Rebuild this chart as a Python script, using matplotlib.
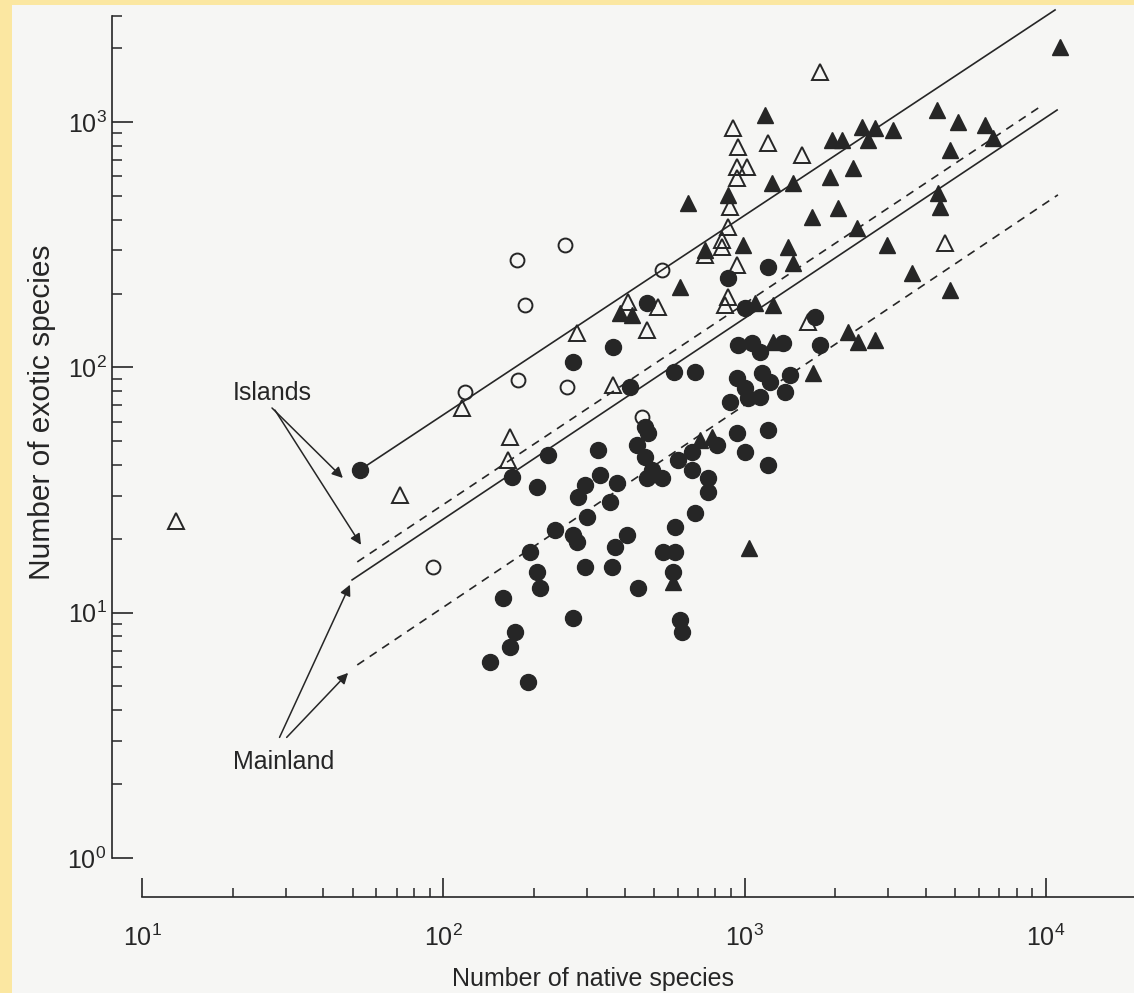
import matplotlib.pyplot as plt
from matplotlib.patches import Rectangle
from matplotlib.ticker import NullFormatter

plt.rcParams['font.family'] = ['Liberation Sans', 'DejaVu Sans']
plt.rcParams['mathtext.fontset'] = 'custom'
plt.rcParams['mathtext.rm'] = 'Liberation Sans'
plt.rcParams['mathtext.it'] = 'Liberation Sans:italic'
plt.rcParams['mathtext.bf'] = 'Liberation Sans:bold'

INK = '#262626'
PAGE = '#f6f6f4'
TAPE = '#fbe7a1'

# open circles
oc_x = [92.5, 118, 177, 258, 187, 176, 254, 532, 456]
oc_y = [15.4, 79.4, 88.9, 83.2, 180, 274, 315, 249, 62.8]

# open triangles
ot_x = [13.0, 71.8, 115, 166, 164, 278, 366, 410, 516, 474, 881, 861, 944, 881,
        841, 739, 841, 895, 944, 944, 1019, 951, 1197, 914, 1549, 1778, 4624, 1622]
ot_y = [23.6, 30.2, 68.3, 52.0, 41.9, 138, 84.8, 185, 176, 142, 194, 180, 261, 374,
        331, 287, 310, 451, 592, 656, 656, 791, 822, 946, 734, 1600, 321, 153]

# filled triangles
ft_x = [11150, 4355, 5105, 6280, 6670, 4810, 4385, 4455, 4810, 1169,
        1950, 2103, 2570, 2455, 2710, 3110, 2291, 1919, 1233, 1449,
        881, 649, 1675, 2042, 2361, 2972, 3597, 739, 988, 1393,
        1449, 611, 1084, 1242, 2203, 2377, 2710, 1687, 1242, 385,
        423, 1035, 578, 711, 780]
ft_y = [2024, 1120, 1000, 973, 861, 769, 514, 451, 207, 1069,
        845, 845, 845, 955, 946, 929, 650, 597, 565, 565,
        505, 468, 410, 447, 370, 315, 243, 301, 315, 310,
        267, 213, 183, 180, 139, 127, 129, 94.9, 127, 167,
        164, 18.4, 13.3, 50.6, 52.0]

# filled circles
fc_x = [53.0, 417, 169, 222, 205, 326, 331, 295, 280, 378,
        357, 300, 235, 269, 278, 194, 407, 372, 205, 209,
        295, 363, 158, 443, 269, 173, 166, 143, 191, 467,
        478, 440, 467, 493, 474, 532, 601, 668, 668, 684,
        588, 536, 588, 578, 611, 620, 757, 757, 809, 944,
        1197, 1002, 1197, 684, 583, 951, 1059, 1125, 1340, 1778,
        944, 1142, 1213, 1415, 1362, 1002, 1026, 1125, 895, 1197,
        881, 1002, 1714, 474, 366, 269]
fc_y = [38.2, 83.2, 35.8, 43.9, 32.5, 46.1, 36.4, 33.2, 29.6, 33.8,
        28.3, 24.6, 21.7, 20.7, 19.4, 17.7, 20.7, 18.5, 14.7, 12.6,
        15.4, 15.4, 11.5, 12.6, 9.52, 8.34, 7.25, 6.30, 5.22, 57.1,
        54.0, 48.3, 43.1, 38.2, 35.4, 35.4, 41.9, 45.2, 38.2, 25.5,
        22.4, 17.7, 17.7, 14.7, 9.34, 8.34, 35.4, 31.0, 48.3, 54.0,
        55.6, 45.2, 40.0, 95.8, 95.8, 123, 126, 116, 126, 123,
        90.5, 94.9, 87.2, 93.1, 79.4, 82.4, 75.0, 75.7, 72.3, 257,
        231, 175, 160, 183, 121, 105]

# fitted lines (end points)
isl_solid_x, isl_solid_y = [54.1, 10720], [38.9, 2865]
isl_dash_x, isl_dash_y = [51.8, 9770], [16.1, 1175]
main_solid_x, main_solid_y = [49.8, 10890], [13.6, 1120]
main_dash_x, main_dash_y = [51.8, 10960], [6.12, 505]

XLIM = (7.95, 19600)
YLIM = (0.693, 2707)

fig = plt.figure(figsize=(11.34, 9.93), dpi=100)
fig.patch.set_facecolor(TAPE)
fig.add_artist(Rectangle((12 / 1134, 0), 1, (993 - 5) / 993, transform=fig.transFigure,
                         facecolor=PAGE, edgecolor='none', zorder=-10))

ax = fig.add_axes([112 / 1134, 96 / 993, 1 - 112 / 1134, (897 - 16) / 993])
ax.set_facecolor('none')
ax.set_xscale('log')
ax.set_yscale('log')
ax.set_xlim(*XLIM)
ax.set_ylim(*YLIM)

lw = 1.2
ax.plot(isl_solid_x, isl_solid_y, '-', color=INK, lw=lw, clip_on=False)
ax.plot(isl_dash_x, isl_dash_y, color=INK, lw=lw, ls=(0, (5, 4)), clip_on=False)
ax.plot(main_solid_x, main_solid_y, '-', color=INK, lw=lw, clip_on=False)
ax.plot(main_dash_x, main_dash_y, color=INK, lw=lw, ls=(0, (5, 4)), clip_on=False)

ax.plot(fc_x, fc_y, 'o', ms=11.5, color=INK, mec=INK, ls='none')
ax.plot(ft_x, ft_y, '^', ms=11, color=INK, mec=INK, ls='none')
ax.plot(oc_x, oc_y, 'o', ms=10, mfc='none', mec=INK, mew=1.4, ls='none')
ax.plot(ot_x, ot_y, '^', ms=11, mfc='none', mec=INK, mew=1.4, ls='none')

# annotations
arrow = dict(arrowstyle='-|>', color=INK, lw=1.1, mutation_scale=16, shrinkA=0, shrinkB=0)
ax.text(27.0, 78.7, 'Islands', ha='center', va='center', fontsize=18, color=INK)
ax.annotate('', xy=(46.4, 35.4), xytext=(27.0, 68.3), arrowprops=arrow)
ax.annotate('', xy=(53.3, 18.9), xytext=(27.6, 67.0), arrowprops=arrow)
ax.text(29.4, 2.46, 'Mainland', ha='center', va='center', fontsize=18, color=INK)
ax.annotate('', xy=(49.0, 13.0), xytext=(28.6, 3.1), arrowprops=arrow)
ax.annotate('', xy=(48.3, 5.68), xytext=(30.2, 3.1), arrowprops=arrow)

# axes styling
for s in ['top', 'right']:
    ax.spines[s].set_visible(False)
ax.spines['left'].set_bounds(1, YLIM[1])
ax.spines['bottom'].set_bounds(10, XLIM[1])
for s in ['left', 'bottom']:
    ax.spines[s].set_color(INK)
    ax.spines[s].set_linewidth(1.2)

ax.set_xticks([10, 100, 1000, 10000])
ax.set_xticks([k * 10 ** n for n in (1, 2, 3) for k in range(2, 10)], minor=True)
ax.set_yticks([1, 10, 100, 1000])
ax.set_yticks([k * 10 ** n for n in (0, 1, 2) for k in range(2, 10)] + [2000, YLIM[1]], minor=True)
ax.xaxis.set_minor_formatter(NullFormatter())
ax.yaxis.set_minor_formatter(NullFormatter())

ax.tick_params(axis='x', which='major', direction='in', length=14, width=1.2, pad=20,
               labelsize=18, colors=INK)
ax.tick_params(axis='x', which='minor', direction='in', length=6.5, width=1.1, colors=INK)
ax.tick_params(axis='y', which='major', direction='in', length=15, width=1.2, pad=4,
               labelsize=18, colors=INK)
ax.tick_params(axis='y', which='minor', direction='in', length=7, width=1.1, colors=INK)

ax.set_xlabel('Number of native species', fontsize=18, color=INK)
ax.xaxis.set_label_coords(0.471, -0.080)
ax.set_ylabel('Number of exotic species', fontsize=21.5, color=INK)
ax.yaxis.set_label_coords(-0.055, 0.5505)

fig.savefig('out.png', dpi=100, facecolor=fig.get_facecolor())
